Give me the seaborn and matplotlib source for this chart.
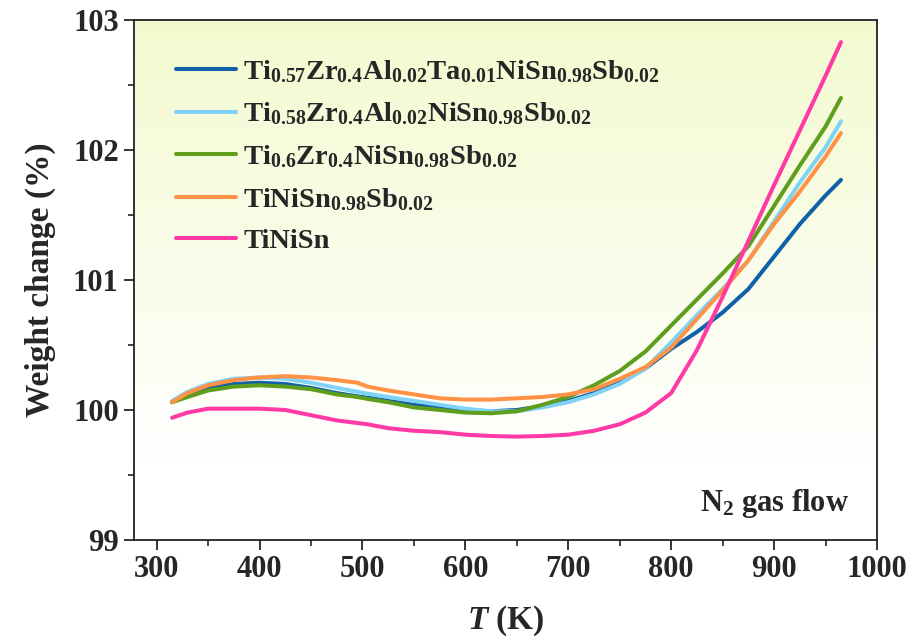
import matplotlib
matplotlib.use('Agg')
import matplotlib.pyplot as plt
import numpy as np
import pandas as pd
import seaborn as sns

# Datos (TGA en flujo de N2)
temperatura = [315, 330, 350, 375, 400, 425, 450, 475, 495, 505, 525, 550, 575, 600, 625, 650, 675,
               700, 725, 750, 775, 800, 825, 850, 875, 900, 925, 950, 965]

w_ta = [100.06, 100.12, 100.17, 100.20, 100.21, 100.20, 100.17, 100.13, 100.105, 100.095, 100.07, 100.04,
        100.02, 100.00, 99.99, 100.00, 100.03, 100.07, 100.13, 100.21, 100.32, 100.47, 100.60, 100.75,
        100.93, 101.18, 101.43, 101.65, 101.77]
w_al = [100.07, 100.14, 100.20, 100.24, 100.25, 100.24, 100.21, 100.17, 100.14, 100.125, 100.10, 100.07,
        100.04, 100.01, 99.99, 99.99, 100.02, 100.06, 100.12, 100.20, 100.32, 100.52, 100.73, 100.93,
        101.15, 101.45, 101.75, 102.02, 102.22]
w_zr = [100.06, 100.10, 100.15, 100.18, 100.19, 100.18, 100.16, 100.12, 100.10, 100.085, 100.06, 100.02,
        100.00, 99.98, 99.975, 99.99, 100.04, 100.10, 100.19, 100.30, 100.45, 100.65, 100.85, 101.05,
        101.26, 101.57, 101.88, 102.18, 102.40]
w_sb = [100.06, 100.13, 100.19, 100.23, 100.25, 100.26, 100.25, 100.23, 100.21, 100.18, 100.15, 100.12,
        100.09, 100.08, 100.08, 100.09, 100.10, 100.12, 100.16, 100.24, 100.33, 100.48, 100.70, 100.92,
        101.15, 101.43, 101.68, 101.95, 102.13]
w_tinisn = [99.94, 99.98, 100.01, 100.01, 100.01, 100.00, 99.96, 99.92, 99.90, 99.89, 99.86, 99.84,
            99.83, 99.81, 99.80, 99.795, 99.80, 99.81, 99.84, 99.89, 99.98, 100.13, 100.46, 100.87,
            101.30, 101.73, 102.15, 102.57, 102.83]

etiquetas = ['Ti$_{0.57}$Zr$_{0.4}$Al$_{0.02}$Ta$_{0.01}$NiSn$_{0.98}$Sb$_{0.02}$',
             'Ti$_{0.58}$Zr$_{0.4}$Al$_{0.02}$NiSn$_{0.98}$Sb$_{0.02}$',
             'Ti$_{0.6}$Zr$_{0.4}$NiSn$_{0.98}$Sb$_{0.02}$',
             'TiNiSn$_{0.98}$Sb$_{0.02}$',
             'TiNiSn']
series = [w_ta, w_al, w_zr, w_sb, w_tinisn]
colores = ['#1061a8', '#80d2f7', '#5e9e1c', '#ff9244', '#ff3aa6']

sns.set_style('ticks')
plt.rcParams['font.family'] = ['Liberation Serif', 'DejaVu Serif']
plt.rcParams['font.weight'] = 'bold'
plt.rcParams['mathtext.fontset'] = 'custom'
plt.rcParams['mathtext.rm'] = 'Liberation Serif:bold'
plt.rcParams['mathtext.bf'] = 'Liberation Serif:bold'
plt.rcParams['mathtext.it'] = 'Liberation Serif:italic:bold'
plt.rcParams['mathtext.default'] = 'bf'

fig = plt.figure(figsize=(9.14, 6.44), dpi=100)
ax = fig.add_axes([0.1466, 0.1615, 0.8129, 0.8075])

# Fondo degradado amarillo verdoso -> blanco
grad = np.linspace(0, 1, 256).reshape(-1, 1)
top = np.array([0.953, 0.980, 0.812])
bottom = np.array([1.0, 1.0, 1.0])
mix = np.clip(grad / 0.85, 0, 1)
img = top[None, None, :] * (1 - mix[..., None]) + bottom[None, None, :] * mix[..., None]
ax.imshow(img, extent=[0, 1, 0, 1], transform=ax.transAxes, aspect='auto', zorder=0, origin='upper')

for valores, etiqueta, color in zip(series, etiquetas, colores):
    df = pd.DataFrame({'T': temperatura, 'w': valores})
    sns.lineplot(data=df, x='T', y='w', color=color, lw=2.9, label=etiqueta, ax=ax, zorder=3,
                 solid_capstyle='round')

ax.set_xlim(278, 1000)
ax.set_ylim(99, 103)
ax.set_xticks(range(300, 1001, 100))
ax.set_xticks(range(350, 1000, 100), minor=True)
ax.set_yticks([99, 100, 101, 102, 103])
ax.set_yticks([99.5, 100.5, 101.5, 102.5], minor=True)
ax.tick_params(which='major', direction='out', length=7, width=1.3, labelsize=22, pad=4)
ax.tick_params(which='minor', direction='out', length=4, width=1.2)
for s in ax.spines.values():
    s.set_linewidth(1.3)
    s.set_color('#222222')

ax.set_xlabel(r'$\mathit{T}$ (K)', fontsize=24, fontweight='bold', labelpad=14)
ax.set_ylabel('Weight change (%)', fontsize=24, fontweight='bold', labelpad=12)

ax.text(0.963, 0.07, 'N$_2$ gas flow', transform=ax.transAxes, ha='right', va='center',
        fontsize=22, fontweight='bold')

ax.legend(loc='upper left', frameon=False, fontsize=20.5, handlelength=2.1, handletextpad=0.25,
          labelspacing=0.55, borderaxespad=0.3, bbox_to_anchor=(0.03, 0.965))

fig.savefig('out.png', dpi=100)
